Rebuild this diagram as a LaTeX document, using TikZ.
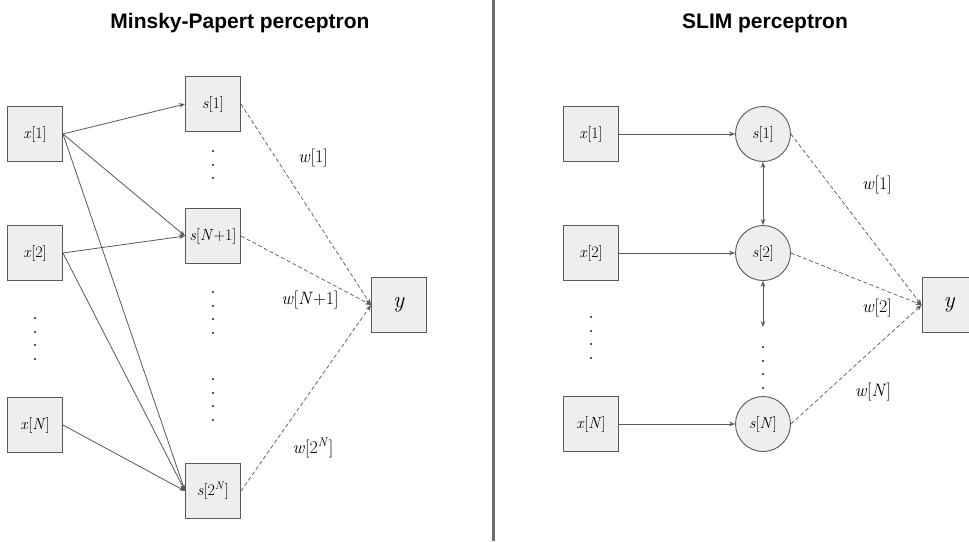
\documentclass[tikz,border=0pt]{standalone}
\usepackage{amsmath, amssymb}
\usepackage{fontspec}
\setsansfont{Liberation Sans}
\usetikzlibrary{arrows.meta}

\definecolor{boxgray}{HTML}{EEEEEE}
\definecolor{linegray}{HTML}{595959}
\definecolor{bargray}{HTML}{6E6E6E}

\newcommand{\iv}[1]{\textit{#1}}

\begin{document}
\begin{tikzpicture}[x=1pt,y=-1pt,
    sqbox/.style={draw=linegray,fill=boxgray,line width=0.9pt,minimum width=55pt,minimum height=55pt,inner sep=0pt,font=\fontsize{16}{19}\selectfont},
    rdnode/.style={circle,draw=linegray,fill=boxgray,line width=0.9pt,minimum size=55pt,inner sep=0pt,font=\fontsize{16}{19}\selectfont},
    outbox/.style={sqbox,font=\fontsize{23}{27}\selectfont},
    wlab/.style={font=\fontsize{18}{21}\selectfont},
    ttl/.style={anchor=base,font=\sffamily\bfseries\fontsize{21}{25}\selectfont},
    link/.style={draw=linegray,line width=0.8pt,-{Stealth[length=6pt,width=4.5pt]}},
    blink/.style={link,{Stealth[length=6pt,width=4.5pt]}-{Stealth[length=6pt,width=4.5pt]}},
    wlink/.style={draw=linegray,line width=0.7pt,dash pattern=on 4pt off 2.5pt,-{Stealth[length=6pt,width=4.5pt]}}]
\useasboundingbox[fill=white] (0,0) rectangle (969,541);

\draw[bargray,line width=3pt] (493,0) -- (493,541);

% Minsky-Papert side
\node[ttl] (T1) at (240,28) {Minsky-Papert perceptron};
\foreach \p/\t [count=\n] in {134/{\iv{x}[1]},253/{\iv{x}[2]},425/{\iv{x}[\iv{N}]}}
    \node[sqbox] (X\n) at (35,\p) {\t};
\foreach \p/\t [count=\n] in {104/{\iv{s}[1]},236/{\iv{s}[\iv{N}+1]},491/{\iv{s}[2\textsuperscript{\iv{N}}]}}
    \node[sqbox] (S\n) at (213,\p) {\t};
\node[outbox] (Y) at (399,305) {\iv{y}};

\foreach \q in {151,165,178,292,306,319,333,379,393,406,420}
    \fill[linegray] (213-1.3,\q-1.3) rectangle ++(2.6,2.6);
\foreach \q in {318,332,345,359}
    \fill[linegray] (35-1.3,\q-1.3) rectangle ++(2.6,2.6);

\draw[link] (X1.east) -- (S1.west);
\draw[link] (X1.east) -- (S2.west);
\draw[link] (X1.east) -- (S3.west);
\draw[link] (X2.east) -- (S2.west);
\draw[link] (X2.east) -- (S3.west);
\draw[link] (X3.east) -- (S3.west);

\draw[wlink] (S1.east) -- (Y.west);
\draw[wlink] (S2.east) -- (Y.west);
\draw[wlink] (S3.east) -- (Y.west);

\node[wlab] (W1) at (313,158) {\iv{w}[1]};
\node[wlab] (W2) at (310,300) {\iv{w}[\iv{N}+1]};
\node[wlab] (W3) at (313,448) {\iv{w}[2\textsuperscript{\iv{N}}]};

% SLIM side
\node[ttl] (T2) at (765,28) {SLIM perceptron};
\foreach \p/\t [count=\n] in {134/{\iv{x}[1]},253/{\iv{x}[2]},424/{\iv{x}[\iv{N}]}}
    \node[sqbox] (U\n) at (591,\p) {\t};
\foreach \p/\t [count=\n] in {134/{\iv{s}[1]},253/{\iv{s}[2]},424/{\iv{s}[\iv{N}]}}
    \node[rdnode] (V\n) at (763,\p) {\t};
\node[outbox] (Z) at (949.5,305) {\iv{y}};
\coordinate (Vgap) at (763,327);

\foreach \q in {347,361,374,388}
    \fill[linegray] (763-1.3,\q-1.3) rectangle ++(2.6,2.6);
\foreach \q in {317,331,344,358}
    \fill[linegray] (591-1.3,\q-1.3) rectangle ++(2.6,2.6);

\draw[link] (U1.east) -- (V1.west);
\draw[link] (U2.east) -- (V2.west);
\draw[link] (U3.east) -- (V3.west);
\draw[blink] (V1.south) -- (V2.north);
\draw[blink] (V2.south) -- (Vgap);

\draw[wlink] (V1.east) -- (Z.west);
\draw[wlink] (V2.east) -- (Z.west);
\draw[wlink] (V3.east) -- (Z.west);

\node[wlab] (R1) at (877,185) {\iv{w}[1]};
\node[wlab] (R2) at (877,308) {\iv{w}[2]};
\node[wlab] (R3) at (873,392) {\iv{w}[\iv{N}]};
\end{tikzpicture}
\end{document}
